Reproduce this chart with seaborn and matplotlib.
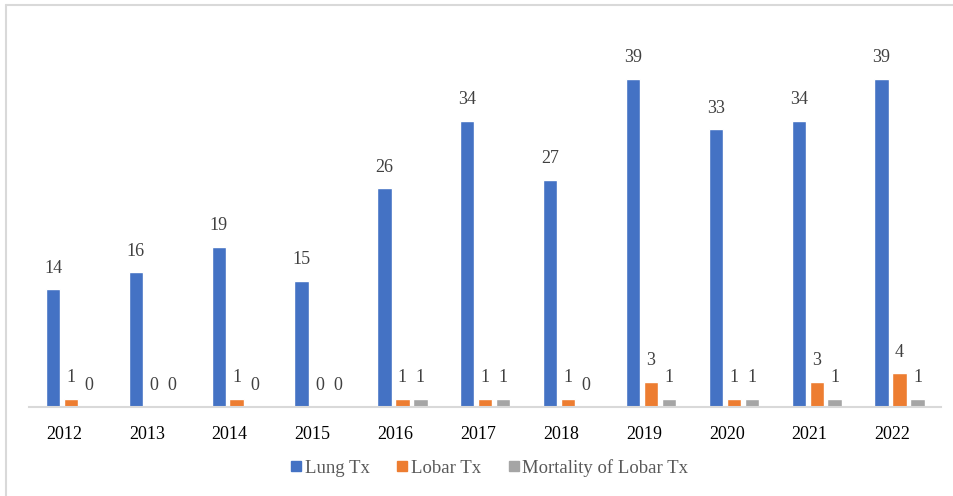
import matplotlib
matplotlib.use("Agg")
import matplotlib.pyplot as plt
import matplotlib.transforms as mtransforms
import seaborn as sns
import pandas as pd
from matplotlib.lines import Line2D

years = ["2012", "2013", "2014", "2015", "2016", "2017", "2018", "2019", "2020", "2021", "2022"]
lung_tx = [14, 16, 19, 15, 26, 34, 27, 39, 33, 34, 39]
lobar_tx = [1, 0, 1, 0, 1, 1, 1, 3, 1, 3, 4]
mortality_lobar = [0, 0, 0, 0, 1, 1, 0, 1, 1, 1, 1]
series_names = ["Lung Tx", "Lobar Tx", "Mortality of Lobar Tx"]
colors = ["#4472C4", "#ED7D31", "#A5A5A5"]

rows = []
for name, vals in zip(series_names, [lung_tx, lobar_tx, mortality_lobar]):
    for y, v in zip(years, vals):
        rows.append({"Year": y, "Series": name, "Count": v})
df = pd.DataFrame(rows)

sns.set_style("white")
plt.rcParams["font.family"] = ["Liberation Serif", "DejaVu Serif"]

W, H = 954, 496
fig = plt.figure(figsize=(W / 100, H / 100), dpi=100)
ax = fig.add_axes([29.5 / W, (H - 407) / H, (941 - 29.5) / W, 379 / H])

sns.barplot(data=df, x="Year", y="Count", hue="Series", palette=colors,
            width=0.65, gap=0.2, ax=ax, legend=False, saturation=1)

for cont in ax.containers:
    ax.bar_label(cont, padding=9, fontsize=13, color="#404040")

ax.set_ylim(0, 45)
ax.set_xlim(-0.5, len(years) - 0.5)
ax.set_xlabel("")
ax.set_ylabel("")
ax.set_yticks([])
ax.tick_params(axis="x", length=0, pad=14, labelsize=13, labelcolor="#000000")
offset = mtransforms.ScaledTranslation(-7 / 100, 0, fig.dpi_scale_trans)
for lbl in ax.get_xticklabels():
    lbl.set_transform(lbl.get_transform() + offset)
for s in ["top", "right", "left"]:
    ax.spines[s].set_visible(False)
ax.spines["bottom"].set_color("#d9d9d9")
ax.spines["bottom"].set_linewidth(1.5)

handles = [Line2D([0], [0], marker="s", linestyle="", markersize=7.5,
                  markerfacecolor=c, markeredgecolor=c) for c in colors]
fig.legend(handles, series_names, loc="center", bbox_to_anchor=(489 / W, 1 - 468 / H),
           ncol=3, frameon=False, fontsize=13.5, labelcolor="#595959",
           handletextpad=0.1, columnspacing=1.4, handlelength=0.7)

# outer frame lines (top and left)
fig.add_artist(Line2D([6 / W, 1], [1 - 5 / H, 1 - 5 / H], color="#d9d9d9", lw=1.5, transform=fig.transFigure))
fig.add_artist(Line2D([6.5 / W, 6.5 / W], [0, 1 - 5 / H], color="#d9d9d9", lw=1.5, transform=fig.transFigure))

fig.savefig("out.png", dpi=100, facecolor="white")
